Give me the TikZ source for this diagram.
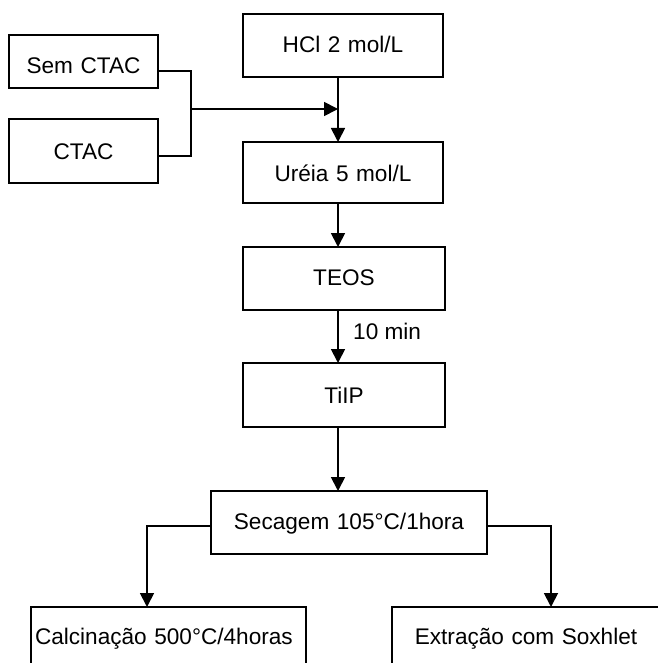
\documentclass[tikz,border=0pt]{standalone}
\usepackage{fontspec}
\setmainfont{Liberation Sans}
\usetikzlibrary{arrows.meta}
\tikzset{
  boxnode/.style={draw, line width=1.8bp, inner xsep=0pt, inner ysep=0pt, outer sep=0pt, align=center, anchor=base},
  flowline/.style={line width=1.8bp},
  flowarrow/.style={line width=1.8bp, -{Triangle[length=14bp,width=14bp]}},
  lbl/.style={inner sep=0pt, anchor=base west}
}
\begin{document}
\begin{tikzpicture}[x=1bp,y=-1bp,font=\fontsize{22.6bp}{27bp}\selectfont]
\clip (0,0) rectangle (658,663);
% boxes
\node[boxnode, text width=149bp, text height=39bp, text depth=14bp] (semctac) at (83.5,74) {Sem CTAC};
\node[boxnode, text width=149bp, text height=40bp, text depth=24bp] (ctac) at (83.5,159) {CTAC};
\node[boxnode, text width=200bp, text height=39bp, text depth=24bp] (hcl) at (343,53) {HCl 2 mol/L};
\node[boxnode, text width=200bp, text height=39bp, text depth=22bp] (ureia) at (343,181) {Uréia 5 mol/L};
\node[boxnode, text width=202bp, text height=38bp, text depth=25bp] (teos) at (344,285) {TEOS};
\node[boxnode, text width=202bp, text height=40bp, text depth=24bp] (tiip) at (344,403) {TiIP};
\node[boxnode, text width=276bp, text height=38bp, text depth=25bp] (secagem) at (349,529) {Secagem 105°C/1hora};
\node[boxnode, anchor=base west, inner xsep=4bp, text width=267bp, align=left, text height=37bp, text depth=40bp] (calc) at (31,644) {Calcinação 500°C/4horas};
\node[boxnode, text width=268bp, text height=37bp, text depth=40bp] (extr) at (526,644) {Extração com Soxhlet};
% helper coordinates
\coordinate (join) at (191,109);
\coordinate (merge) at (338,109);
\coordinate (lc) at (147,523);
\coordinate (rc) at (551,523);
% connectors
\draw[flowline] (semctac.mid east) -| (join) |- (ctac.mid east);
\draw[flowarrow] (join) -- (merge);
\draw[flowarrow] (hcl.south -| merge) -- (ureia.north -| merge);
\draw[flowarrow] (ureia.south -| merge) -- (teos.north -| merge);
\draw[flowarrow] (teos.south -| merge) -- (tiip.north -| merge);
\node[lbl] (tenmin) at (353,339) {10 min};
\draw[flowarrow] (tiip.south -| merge) -- (secagem.north -| merge);
\draw[flowarrow] (secagem.mid west) -| (calc.north -| lc);
\draw[flowarrow] (secagem.mid east) -| (extr.north -| rc);
\end{tikzpicture}
\end{document}
